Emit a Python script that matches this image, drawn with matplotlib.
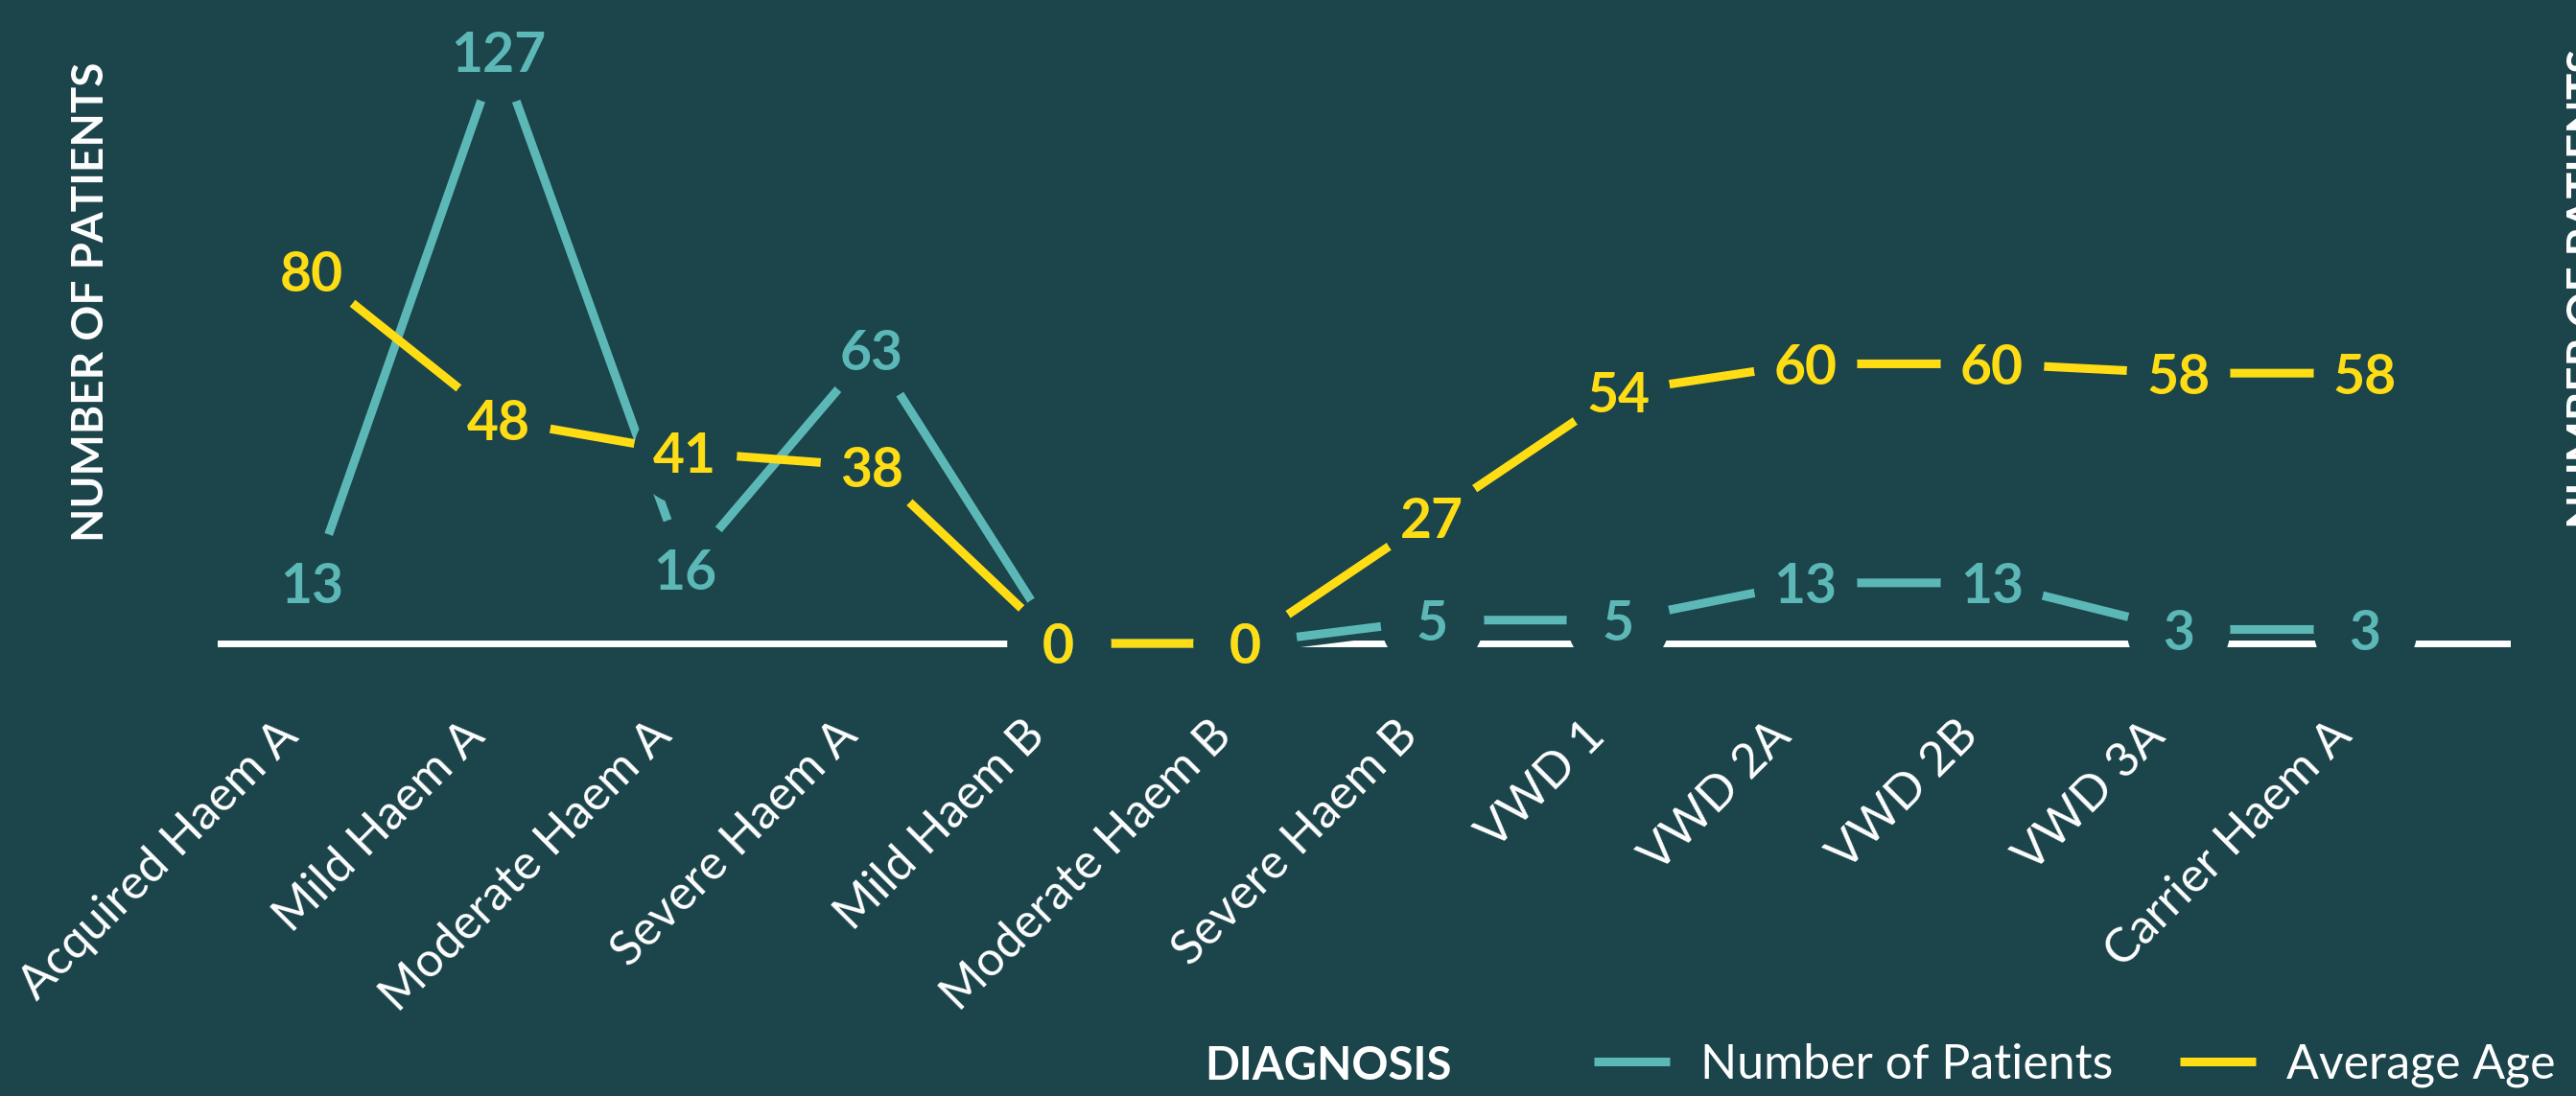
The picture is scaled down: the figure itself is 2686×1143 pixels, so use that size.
import matplotlib
matplotlib.use("Agg")
import matplotlib.pyplot as plt
import matplotlib.transforms as mtransforms
from matplotlib.lines import Line2D

diagnoses = ["Acquired Haem A", "Mild Haem A", "Moderate Haem A", "Severe Haem A",
             "Mild Haem B", "Moderate Haem B", "Severe Haem B", "VWD 1",
             "VWD 2A", "VWD 2B", "VWD 3A", "Carrier Haem A"]
patients = [13, 127, 16, 63, 0, 0, 5, 5, 13, 13, 3, 3]
avg_age = [80, 48, 41, 38, 0, 0, 27, 54, 60, 60, 58, 58]

BG = "#1b444b"
TEAL = "#5cb8b6"
YELLOW = "#ffdd14"
WHITE = "#ffffff"

plt.rcParams["font.family"] = ["Lato", "DejaVu Sans"]

DPI = 100
W, H = 2686, 1143
fig = plt.figure(figsize=(W / DPI, H / DPI), dpi=DPI, facecolor=BG)
ax = fig.add_axes([230 / W, 472 / H, (2614 - 230) / W, 656 / H])
ax.set_facecolor(BG)
ax.set_xlim(-0.488, 11.76)
ax.set_ylim(0, 135)

x = list(range(len(diagnoses)))

# white baseline, line halos knock it out, circles knock out lines around labels
ax.axhline(0, color=WHITE, lw=5, zorder=1, clip_on=False)
for vals in [patients, avg_age]:
    ax.plot(x, vals, color=BG, lw=16, zorder=2, solid_capstyle="butt", clip_on=False)
for vals, col in [(patients, TEAL), (avg_age, YELLOW)]:
    ax.plot(x, vals, color=col, lw=6.5, zorder=3, solid_capstyle="butt", clip_on=False)
for vals in [patients, avg_age]:
    ax.scatter(x, vals, s=6050, color=BG, linewidths=0, zorder=4, clip_on=False)

for i, v in enumerate(patients):
    ax.text(i, v, str(v), ha="center", va="center_baseline", fontsize=41,
            fontweight="bold", color=TEAL, zorder=5)
for i, v in enumerate(avg_age):
    ax.text(i, v, str(v), ha="center", va="center_baseline", fontsize=41,
            fontweight="bold", color=YELLOW, zorder=6)

ax.set_xticks(x, diagnoses)
ax.set_yticks([])
ax.tick_params(axis="x", length=0, pad=71, labelsize=36, labelcolor=WHITE)
shift = mtransforms.ScaledTranslation(-12 / DPI, 0, fig.dpi_scale_trans)
for lbl in ax.get_xticklabels():
    lbl.set_rotation(45)
    lbl.set_ha("right")
    lbl.set_va("baseline")
    lbl.set_rotation_mode("anchor")
    lbl.set_transform(lbl.get_transform() + shift)
for sp in ax.spines.values():
    sp.set_visible(False)

fig.text(95 / W, 1 - 315 / H, "NUMBER OF PATIENTS", rotation=90, ha="center",
         va="center", fontsize=33, fontweight="bold", color=WHITE)
# right-hand title runs off the edge in the original too
fig.text(2676 / W, 1 - 301 / H, "NUMBER OF PATIENTS", rotation=90, ha="left",
         va="center", fontsize=33, fontweight="bold", color=WHITE)
fig.text(1385 / W, 1 - 1112 / H, "DIAGNOSIS", ha="center", va="center",
         fontsize=34, fontweight="bold", color=WHITE)

handles = [Line2D([], [], color=TEAL, lw=6.5, solid_capstyle="butt"),
           Line2D([], [], color=YELLOW, lw=6.5, solid_capstyle="butt")]
fig.legend(handles, ["Number of Patients", "Average Age"], loc="center left",
           bbox_to_anchor=(1662 / W, 1 - 1111 / H), ncol=2, frameon=False,
           fontsize=36, labelcolor=WHITE, handlelength=1.58, handletextpad=0.64,
           columnspacing=1.4, borderpad=0, borderaxespad=0)

fig.savefig("out.png", dpi=DPI, facecolor=BG)
